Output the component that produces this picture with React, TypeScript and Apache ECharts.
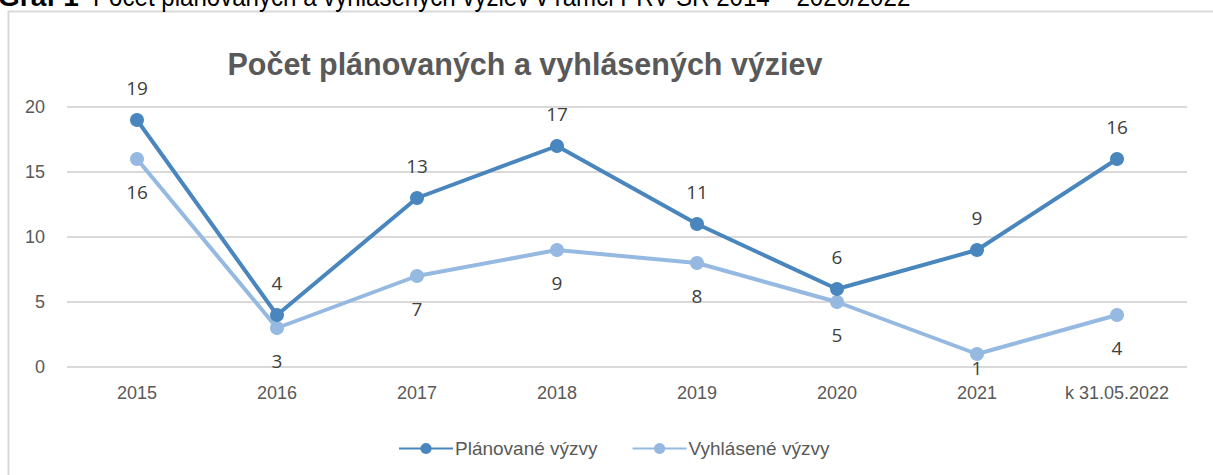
import React, { useEffect, useRef } from "react";
import * as echarts from "echarts";

const categories = ["2015", "2016", "2017", "2018", "2019", "2020", "2021", "k 31.05.2022"];
const planovane = [19, 4, 13, 17, 11, 6, 9, 16];
const vyhlasene = [16, 3, 7, 9, 8, 5, 1, 4];
const yTicks = { min: 0, max: 20, interval: 5 };

const titleText = "Počet plánovaných a vyhlásených výziev";
const captionBold = "Graf 1";
const captionRest = "Počet plánovaných a vyhlásených výziev v rámci PRV SR 2014 – 2020/2022";

export default function App() {
  const ref = useRef<HTMLDivElement>(null);
  useEffect(() => {
    if (!ref.current) return;
    const chart = echarts.init(ref.current, undefined, { renderer: "svg" });
    const font = "'Liberation Sans', Arial, sans-serif";
    const labelFont = "'Open Sans', 'Liberation Sans', sans-serif";
    const vyhlData = vyhlasene.map((v, i) =>
      i === 6 ? { value: v, label: { distance: -3 } } : v
    );
    chart.setOption({
      animation: false,
      backgroundColor: "#ffffff",
      title: {
        text: titleText,
        left: 520,
        top: 43,
        textAlign: "center",
        textStyle: { fontFamily: font, fontWeight: "bold", fontSize: 30.5, color: "#595959" },
      },
      graphic: [
        {
          type: "rect",
          shape: { x: 8.5, y: 11.5, width: 1230, height: 490 },
          style: { fill: "none", stroke: "#d9d9d9", lineWidth: 2 },
          silent: true,
        },
        {
          type: "text",
          x: -2,
          y: 10,
          scaleX: 1.0,
          style: {
            text: captionBold,
            fontFamily: font,
            fontWeight: "bold",
            fontSize: 28,
            fill: "#000000",
            verticalAlign: "bottom",
          },
        },
        {
          type: "text",
          x: 93,
          y: 10,
          scaleX: 0.86,
          style: {
            text: captionRest,
            fontFamily: font,
            fontSize: 28,
            fill: "#000000",
            verticalAlign: "bottom",
          },
        },
      ],
      grid: { left: 67, right: 26, top: 107, bottom: 108 },
      xAxis: {
        type: "category",
        data: categories,
        boundaryGap: true,
        axisLine: { show: false },
        axisTick: { show: false },
        axisLabel: { fontFamily: font, fontSize: 18, color: "#595959", margin: 17 },
      },
      yAxis: {
        type: "value",
        min: yTicks.min,
        max: yTicks.max,
        interval: yTicks.interval,
        axisLine: { show: false },
        axisTick: { show: false },
        axisLabel: { fontFamily: font, fontSize: 18, color: "#595959", margin: 22 },
        splitLine: { lineStyle: { color: "#d9d9d9", width: 2 } },
      },
      legend: {
        top: 434,
        left: 393,
        itemWidth: 54,
        itemHeight: 14,
        itemGap: 34,
        textStyle: { fontFamily: font, fontSize: 19, color: "#595959", padding: [0, 0, 0, -3] },
        data: ["Plánované výzvy", "Vyhlásené výzvy"],
      },
      series: [
        {
          name: "Plánované výzvy",
          type: "line",
          data: planovane,
          symbol: "circle",
          symbolSize: 14,
          color: "#4a86be",
          lineStyle: { width: 4, color: "#4a86be" },
          itemStyle: { color: "#4a86be" },
          z: 3,
          label: {
            show: true,
            position: "top",
            distance: 16,
            fontFamily: labelFont,
            fontSize: 19,
            color: "#404040",
          },
        },
        {
          name: "Vyhlásené výzvy",
          type: "line",
          data: vyhlData,
          symbol: "circle",
          symbolSize: 14,
          color: "#95b9e1",
          lineStyle: { width: 4, color: "#95b9e1" },
          itemStyle: { color: "#95b9e1" },
          z: 2,
          label: {
            show: true,
            position: "bottom",
            distance: 16,
            fontFamily: labelFont,
            fontSize: 19,
            color: "#404040",
          },
        },
      ],
    });
    return () => chart.dispose();
  }, []);
  return (
    <div
      ref={ref}
      style={{ position: "fixed", left: 0, top: 0, width: 1213, height: 475 }}
    />
  );
}
